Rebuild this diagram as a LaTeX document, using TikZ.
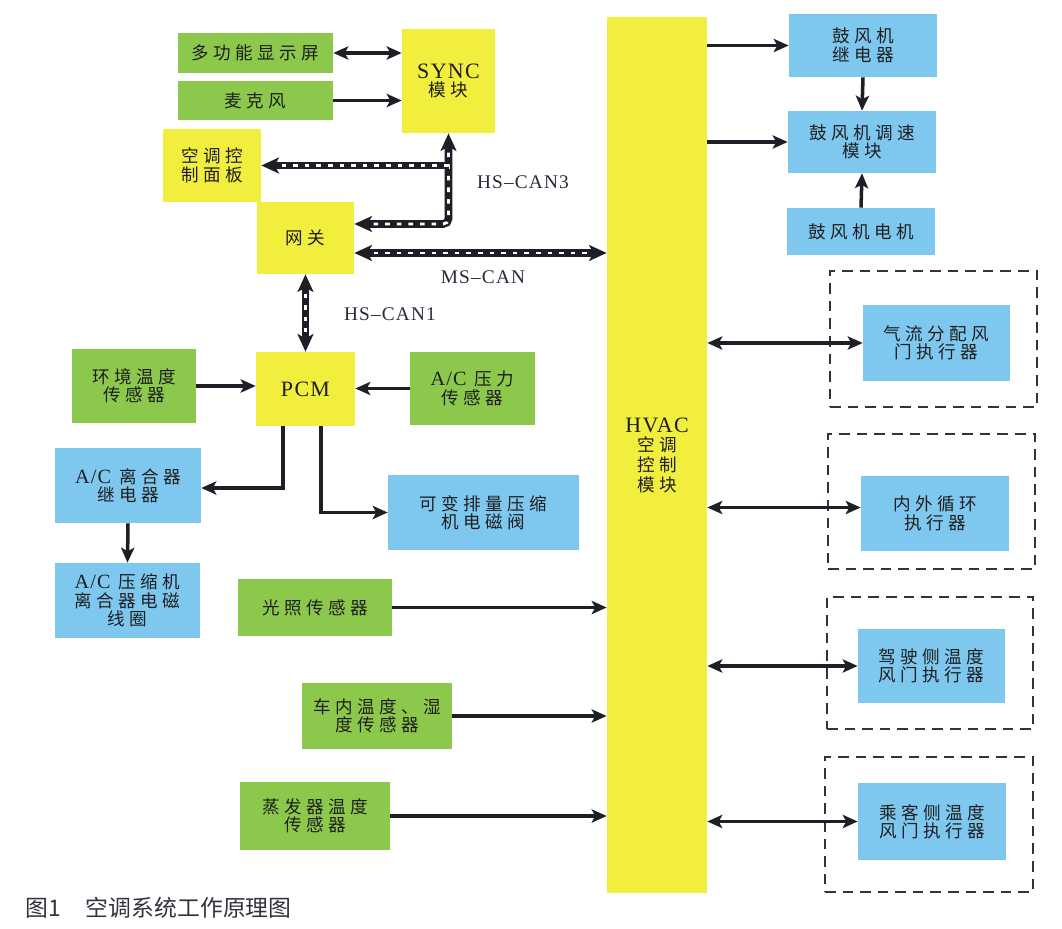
\documentclass[tikz,border=0pt]{standalone}
\usepackage{fontspec}
\setmainfont{Liberation Serif}
\newfontfamily\cjk[LetterSpace=25]{Noto Sans CJK SC}
\newfontfamily\lat[LetterSpace=6]{Liberation Serif}
\newfontfamily\capfont{Noto Sans CJK SC}
\usetikzlibrary{arrows.meta}
\definecolor{grn}{HTML}{8CC84C}
\definecolor{ylw}{HTML}{F2EE3E}
\definecolor{blu}{HTML}{7EC8F0}
\definecolor{txtc}{HTML}{1E1E1E}
\definecolor{arrc}{HTML}{1E1E26}
\definecolor{dashc}{HTML}{333340}
\definecolor{lblc}{HTML}{2A2A3A}
\definecolor{capc}{HTML}{333340}
\newcommand\LT[1]{{\lat\fontsize{11.5}{11}\selectfont #1}}
\newcommand\LB[1]{{\lat\fontsize{12.5}{11}\selectfont #1}}
\tikzset{
  box/.style={inner sep=0pt, align=center, text=txtc, font=\cjk\fontsize{10}{10.5}\selectfont},
  gbox/.style={box, fill=grn},
  ybox/.style={box, fill=ylw},
  bbox/.style={box, fill=blu},
  dbox/.style={draw=dashc, line width=1.1pt, dash pattern=on 6pt off 4pt},
  tip/.tip={Stealth[length=8.5pt,width=7.5pt,inset=2pt]},
  arr/.style={line width=2pt, draw=arrc, -tip},
  dbl/.style={line width=2pt, draw=arrc, tip-tip},
  btip/.tip={Stealth[length=10pt,width=9pt,inset=2.5pt]},
  busb/.style={line width=4.4pt, draw=arrc},
  busw/.style={line width=1.6pt, draw=white, dash pattern=on 2.6pt off 4pt},
  lbl/.style={inner sep=0pt, text=lblc, font=\lat\fontsize{11}{12}\selectfont},
}
\begin{document}
\begin{tikzpicture}[x=0.02cm,y=-0.02cm]
\fill[white] (0,0) rectangle (1062,929);
\useasboundingbox (0,0) rectangle (1062,929);

% dashed groups
\node[dbox, minimum width=4.14cm, minimum height=2.72cm] (d1) at (933.5,339) {};
\node[dbox, minimum width=4.14cm, minimum height=2.70cm] (d2) at (931.5,501.5) {};
\node[dbox, minimum width=4.12cm, minimum height=2.64cm] (d3) at (930,663) {};
\node[dbox, minimum width=4.16cm, minimum height=2.70cm] (d4) at (929,824.5) {};

% top-left
\node[gbox, minimum width=3.10cm, minimum height=0.80cm] (disp) at (255.5,53) {多功能显示屏};
\node[gbox, minimum width=3.10cm, minimum height=0.78cm] (mic) at (255.5,100.5) {麦克风};
\node[ybox, minimum width=1.86cm, minimum height=2.08cm] (sync) at (448.5,81) {\LB{SYNC}\\模块};
\node[ybox, minimum width=1.96cm, minimum height=1.46cm] (panel) at (212,165.5) {空调控\\制面板};
\node[ybox, minimum width=1.94cm, minimum height=1.44cm] (gw) at (305.5,238) {网关};

% HVAC
\node[ybox, minimum width=2.00cm, minimum height=17.52cm, font=\cjk\fontsize{10}{11.2}\selectfont] (hvac) at (657,455) {\LB{HVAC}\\空调\\控制\\模块};

% middle-left
\node[gbox, minimum width=2.48cm, minimum height=1.48cm] (env) at (134,386) {环境温度\\传感器};
\node[ybox, minimum width=1.98cm, minimum height=1.48cm] (pcm) at (305.5,389) {\LB{PCM}};
\node[gbox, minimum width=2.50cm, minimum height=1.46cm] (press) at (472.5,388.5) {\LT{A/C} 压力\\传感器};
\node[bbox, minimum width=2.92cm, minimum height=1.50cm] (relay) at (128,485.5) {\LT{A/C} 离合器\\继电器};
\node[bbox, minimum width=3.82cm, minimum height=1.50cm] (valve) at (483.5,512.5) {可变排量压缩\\机电磁阀};
\node[bbox, minimum width=2.90cm, minimum height=1.50cm] (coil) at (127.5,600.5) {\LT{A/C} 压缩机\\离合器电磁\\线圈};
\node[gbox, minimum width=3.08cm, minimum height=1.14cm] (light) at (315,607.5) {光照传感器};
\node[gbox, minimum width=3.00cm, minimum height=1.32cm] (cabin) at (377,716) {车内温度、湿\\度传感器};
\node[gbox, minimum width=3.00cm, minimum height=1.36cm] (evap) at (315,816) {蒸发器温度\\传感器};

% right column
\node[bbox, minimum width=2.96cm, minimum height=1.26cm] (brelay) at (863,45.5) {鼓风机\\继电器};
\node[bbox, minimum width=2.96cm, minimum height=1.24cm] (bspeed) at (862,142) {鼓风机调速\\模块};
\node[bbox, minimum width=2.96cm, minimum height=0.94cm] (bmotor) at (861,231.5) {鼓风机电机};
\node[bbox, minimum width=2.94cm, minimum height=1.52cm] (air) at (936.5,343) {气流分配风\\门执行器};
\node[bbox, minimum width=2.96cm, minimum height=1.50cm] (recirc) at (935,513.5) {内外循环\\执行器};
\node[bbox, minimum width=2.94cm, minimum height=1.48cm] (driver) at (931.5,666) {驾驶侧温度\\风门执行器};
\node[bbox, minimum width=2.96cm, minimum height=1.54cm] (pass) at (932,821.5) {乘客侧温度\\风门执行器};

% plain connectors
\draw[dbl] (disp.east) -- (sync.west |- disp.east);
\draw[arr] (mic.east) -- (sync.west |- mic.east);
\draw[arr] (env.east) -- (pcm.west |- env.east);
\draw[arr] (press.west) -- (pcm.east |- press.west);
\draw[arr] ([xshift=-0.45cm]pcm.south) |- ([yshift=-0.05cm]relay.east);
\draw[arr] ([xshift=0.31cm]pcm.south) |- (valve.west);
\draw[arr] (relay.south) -- (coil.north);
\draw[arr] (light.east) -- (hvac.west |- light.east);
\draw[arr] (cabin.east) -- (hvac.west |- cabin.east);
\draw[arr] (evap.east) -- (hvac.west |- evap.east);
\draw[arr] (hvac.east |- brelay.west) -- (brelay.west);
\draw[arr] (hvac.east |- bspeed.west) -- (bspeed.west);
\draw[arr] (brelay.south) -- (bspeed.north);
\draw[arr] (bmotor.north) -- (bspeed.south);
\draw[dbl] (hvac.east |- air.west) -- (air.west);
\coordinate (rc) at ([yshift=0.12cm]recirc.west);
\draw[dbl] (hvac.east |- rc) -- (rc);
\draw[dbl] (hvac.east |- driver.west) -- (driver.west);
\draw[dbl] (hvac.east |- pass.west) -- (pass.west);

% CAN buses
\coordinate (c3) at (449,224);
\coordinate (ms) at (0,253);
\draw[busb, btip-btip, rounded corners=3pt] (sync.south) -- (sync.south |- c3) -- (gw.east |- c3);
\draw[busw, rounded corners=3pt, shorten <=11pt, shorten >=11pt] (sync.south) -- (sync.south |- c3) -- (gw.east |- c3);
\draw[busb, -btip] (sync.south |- panel.east) -- (panel.east);
\draw[busw, shorten >=11pt] (sync.south |- panel.east) -- (panel.east);
\draw[busb, btip-btip] (gw.east |- ms) -- (hvac.west |- ms);
\draw[busw, shorten <=11pt, shorten >=11pt] (gw.east |- ms) -- (hvac.west |- ms);
\draw[busb, btip-btip] (gw.south) -- (pcm.north);
\draw[busw, shorten <=11pt, shorten >=11pt] (gw.south) -- (pcm.north);

% labels
\node[lbl] (l3) at (523,182) {HS–CAN3};
\node[lbl] (lms) at (483,277) {MS–CAN};
\node[lbl] (l1) at (390,314) {HS–CAN1};

% caption
\node[anchor=west, inner sep=0pt, text=capc, font=\capfont\fontsize{13}{14}\selectfont] (cap) at (25,908) {图1\hspace{1.1em}空调系统工作原理图};
\end{tikzpicture}
\end{document}
